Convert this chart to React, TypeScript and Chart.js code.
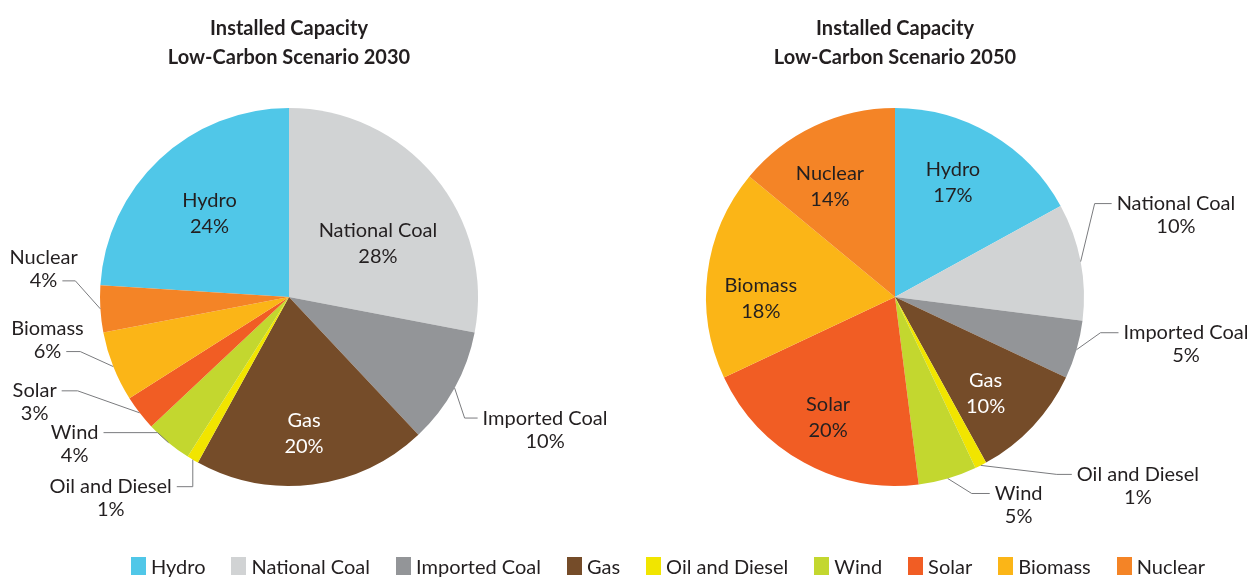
import React, { useEffect, useRef } from "react";
import { Chart, registerables } from "chart.js";

Chart.register(...registerables);

const categories = [
  "Hydro",
  "National Coal",
  "Imported Coal",
  "Gas",
  "Oil and Diesel",
  "Wind",
  "Solar",
  "Biomass",
  "Nuclear",
];
const colors = [
  "#50C7E8",
  "#D1D3D4",
  "#939598",
  "#754C29",
  "#F1E500",
  "#C3D72F",
  "#F15D24",
  "#FBB517",
  "#F48426",
];
const values2030 = [24, 28, 10, 20, 1, 4, 3, 6, 4];
const values2050 = [17, 10, 5, 10, 1, 5, 20, 18, 14];
const title2030 = ["Installed Capacity", "Low-Carbon Scenario 2030"];
const title2050 = ["Installed Capacity", "Low-Carbon Scenario 2050"];

const FONT = "Lato, 'Noto Sans', sans-serif";
const TEXT = "#231F20";

type Place =
  | { inside: true; f: number; da: number; color?: string }
  | { inside: false; ex: number; ey: number; arm: number; attach: number };

const place2030: Place[] = [
  { inside: true, f: 0.61, da: -0.4 },
  { inside: true, f: 0.55, da: 8.4 },
  { inside: false, ex: 10, ey: 30, arm: 13, attach: 0 },
  { inside: true, f: 0.725, da: 0.9, color: "#ffffff" },
  { inside: false, ex: 0, ey: 27, arm: -16, attach: 0 },
  { inside: false, ex: -11, ey: -10, arm: -54, attach: 0 },
  { inside: false, ex: -62, ey: -22, arm: -16, attach: 0 },
  { inside: false, ex: -33, ey: -15, arm: -14, attach: 1 },
  { inside: false, ex: -25, ey: -28, arm: -13, attach: 1 },
];

const place2050: Place[] = [
  { inside: true, f: 0.68, da: -3.8 },
  { inside: false, ex: 14, ey: -58, arm: 17, attach: 0 },
  { inside: false, ex: 24, ey: -17, arm: 18, attach: 0 },
  { inside: true, f: 0.7, da: 3.6, color: "#ffffff" },
  { inside: false, ex: 76, ey: 9, arm: 15, attach: 0 },
  { inside: false, ex: 24, ey: 15, arm: 18, attach: 0 },
  { inside: true, f: 0.73, da: 0.2 },
  { inside: true, f: 0.71, da: -8 },
  { inside: true, f: 0.68, da: -5.2 },
];

const labelPlugin = {
  id: "sliceLabels",
  afterDatasetsDraw(chart: any, _args: any, opts: any) {
    const places: Place[] = opts.places;
    if (!places) return;
    const ctx: CanvasRenderingContext2D = chart.ctx;
    const meta = chart.getDatasetMeta(0);
    const data = chart.data.datasets[0].data as number[];
    const labels = chart.data.labels as string[];
    ctx.save();
    ctx.font = `400 20px ${FONT}`;
    ctx.textAlign = "center";
    ctx.textBaseline = "middle";
    meta.data.forEach((arc: any, i: number) => {
      const p = places[i];
      const { x, y, startAngle, endAngle, outerRadius } = arc.getProps(
        ["x", "y", "startAngle", "endAngle", "outerRadius"],
        true
      );
      const mid = (startAngle + endAngle) / 2;
      const lines = [labels[i], `${data[i]}%`];
      if (p.inside) {
        const a = mid + (p.da * Math.PI) / 180;
        const cx = x + Math.cos(a) * outerRadius * p.f;
        const cy = y + Math.sin(a) * outerRadius * p.f;
        ctx.fillStyle = p.color || TEXT;
        const lh = 26;
        ctx.fillText(lines[0], cx, cy - lh / 2);
        ctx.fillText(lines[1], cx, cy + lh / 2);
      } else {
        const ax = x + Math.cos(mid) * outerRadius;
        const ay = y + Math.sin(mid) * outerRadius;
        const exx = ax + p.ex;
        const eyy = ay + p.ey;
        const endX = exx + p.arm;
        ctx.strokeStyle = "#7a7b7e";
        ctx.lineWidth = 1;
        ctx.beginPath();
        ctx.moveTo(ax, ay);
        ctx.lineTo(exx, eyy);
        ctx.lineTo(endX, eyy);
        ctx.stroke();
        const gap = 5;
        const w = ctx.measureText(lines[p.attach]).width;
        const cx = p.arm > 0 ? endX + gap + w / 2 : endX - gap - w / 2;
        const lh = 23;
        ctx.fillStyle = TEXT;
        lines.forEach((t, k) => {
          ctx.fillText(t, cx, eyy + (k - p.attach) * lh);
        });
      }
    });
    ctx.restore();
  },
};

function PieChart(props: {
  values: number[];
  title: string[];
  places: Place[];
  rotation: number;
  width: number;
  padRight: number;
  left: number;
}) {
  const ref = useRef<HTMLCanvasElement | null>(null);
  useEffect(() => {
    if (!ref.current) return;
    const chart = new Chart(ref.current, {
      type: "pie",
      data: {
        labels: categories,
        datasets: [
          {
            data: props.values,
            backgroundColor: colors,
            borderWidth: 0,
            hoverOffset: 0,
          },
        ],
      },
      options: {
        animation: false,
        responsive: false,
        devicePixelRatio: 1,
        rotation: props.rotation,
        radius: 189,
        layout: { padding: { left: 0, right: props.padRight, top: 0, bottom: 64 } },
        plugins: {
          legend: { display: false },
          tooltip: { enabled: false },
          title: {
            display: true,
            text: props.title,
            color: TEXT,
            font: { family: FONT, size: 20, weight: "bold", lineHeight: 1.45 },
            padding: { top: 14.5, bottom: 7.5 },
          },
          sliceLabels: { places: props.places },
        } as any,
      },
      plugins: [labelPlugin],
    });
    return () => chart.destroy();
  }, []);
  return (
    <canvas
      ref={ref}
      width={props.width}
      height={578}
      style={{ position: "absolute", left: props.left, top: 0, width: props.width, height: 578 }}
    />
  );
}

export default function App() {
  const sum2030 = values2030.reduce((a, b) => a + b, 0);
  const rot2030 = -(values2030[0] / sum2030) * 360;
  return (
    <div
      style={{
        position: "fixed",
        left: 0,
        top: 0,
        width: 1247,
        height: 578,
        background: "#ffffff",
        overflow: "hidden",
        fontFamily: FONT,
      }}
    >
      <PieChart values={values2030} title={title2030} places={place2030} rotation={rot2030} width={620} padRight={42} left={0} />
      <PieChart values={values2050} title={title2050} places={place2050} rotation={0} width={627} padRight={77} left={620} />
      <div
        style={{
          position: "absolute",
          left: 131,
          top: 556,
          display: "flex",
          alignItems: "center",
          gap: 26,
          whiteSpace: "nowrap",
        }}
      >
        {categories.map((c, i) => (
          <div key={c} style={{ display: "flex", alignItems: "center" }}>
            <span style={{ display: "inline-block", width: 15, height: 18, background: colors[i], marginRight: 5 }} />
            <span style={{ fontSize: 20, lineHeight: "20px", color: TEXT }}>{c}</span>
          </div>
        ))}
      </div>
    </div>
  );
}
